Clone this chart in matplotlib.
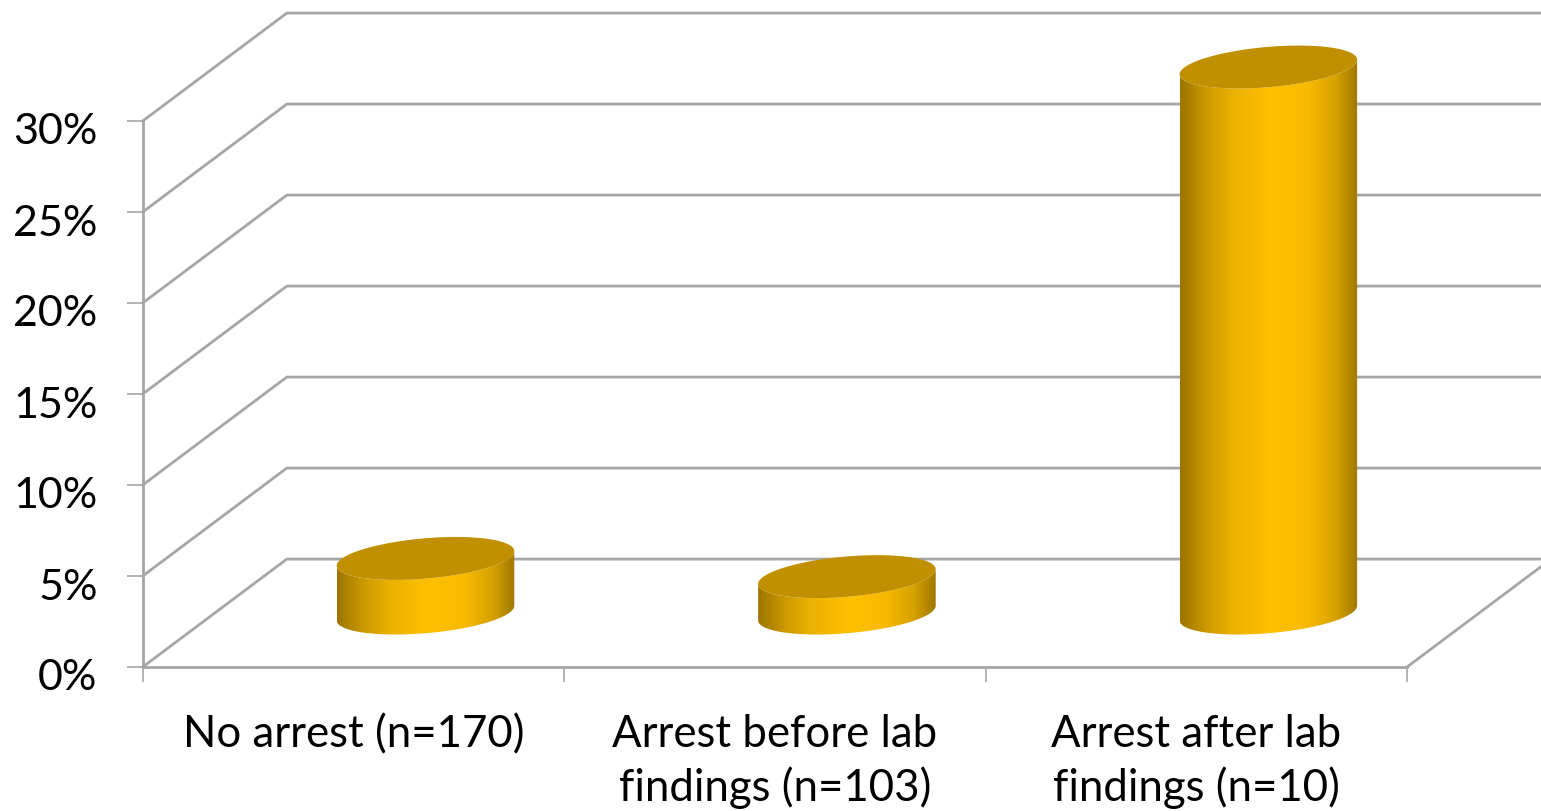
import numpy as np
import matplotlib
matplotlib.use("Agg")
import matplotlib.pyplot as plt
from matplotlib.colors import LinearSegmentedColormap
from matplotlib.patches import Polygon
from matplotlib.transforms import ScaledTranslation

categories = ["No arrest (n=170)", "Arrest before lab\nfindings (n=103)", "Arrest after lab\nfindings (n=10)"]
values = [3, 2, 30]
y_ticks = [0, 5, 10, 15, 20, 25, 30]
y_labels = ["0%", "5%", "10%", "15%", "20%", "25%", "30%"]

GRID = "#a6a6a6"
TOP = "#c09000"
side_cmap = LinearSegmentedColormap.from_list("side", [
    (0.0, "#9c7500"), (0.15, "#cc9900"), (0.3, "#ecb200"), (0.52, "#ffc000"),
    (0.72, "#f8ba00"), (0.87, "#d8a300"), (1.0, "#a07800"),
])

plt.rcParams["font.family"] = ["Lato", "DejaVu Sans"]

W, H = 1541, 812
fig = plt.figure(figsize=(W / 100, H / 100), dpi=100)
ax = fig.add_axes([142.7 / W, (H - 668) / H, (1407 - 142.7) / W, (668 - 122) / H])
ax.set_facecolor("none")

# fake depth of the 3D box, in data units
depth_x = 0.342
depth_y = 5.93
x_right = (W - 142.7) / ((1407 - 142.7) / 3)

# walls and floor
for v in y_ticks:
    ax.plot([0, depth_x, x_right], [v, v + depth_y, v + depth_y], color=GRID, lw=2, clip_on=False, zorder=1)
ax.plot([3, 3 + depth_x], [0, depth_y], color=GRID, lw=2, clip_on=False, zorder=1)

# cylinders
ux, vx, vy = 0.198, 0.072, 1.18
t = np.linspace(0, 2 * np.pi, 200)
t_right = np.arctan2(vx, ux)
arc = np.linspace(np.pi + t_right, 2 * np.pi + t_right, 100)
x_half = np.hypot(ux, vx)

for i, val in enumerate(values):
    cx = i + 0.5 + depth_x / 2
    y0 = depth_y / 2
    y1 = y0 + val
    # front side: bottom arc then top arc back
    bx = cx + ux * np.cos(arc) + vx * np.sin(arc)
    by = y0 + vy * np.sin(arc)
    tx = cx + ux * np.cos(arc[::-1]) + vx * np.sin(arc[::-1])
    ty = y1 + vy * np.sin(arc[::-1])
    side = Polygon(np.column_stack([np.r_[bx, tx], np.r_[by, ty]]), closed=True, transform=ax.transData, fc="none", ec="none")
    ax.add_patch(side)
    im = ax.imshow(np.linspace(0, 1, 256).reshape(1, -1), cmap=side_cmap, aspect="auto",
                   extent=[cx - x_half, cx + x_half, y0 - vy, y1 + vy], zorder=3)
    im.set_clip_box(fig.bbox)
    im.set_clip_path(side)
    ax.fill(cx + ux * np.cos(t) + vx * np.sin(t), y1 + vy * np.sin(t), color=TOP, lw=0, zorder=4, clip_on=False)

ax.set_xlim(0, 3)
ax.set_ylim(0, 30)

for s in ["top", "right"]:
    ax.spines[s].set_visible(False)
for s in ["left", "bottom"]:
    ax.spines[s].set_color(GRID)
    ax.spines[s].set_linewidth(2)
    ax.spines[s].set_zorder(2)

ax.set_yticks(y_ticks, y_labels)
ax.tick_params(axis="y", length=11.5, width=1.2, color=GRID, labelsize=31, pad=21)
ax.set_xticks([0, 1, 2, 3], [""] * 4)
ax.tick_params(axis="x", which="major", length=11, width=1.2, color=GRID)
ax.set_xticks([0.5, 1.5, 2.5], categories, minor=True)
ax.tick_params(axis="x", which="minor", length=0, labelsize=31.5, pad=33.4)
for lab in ax.get_xticklabels(minor=True):
    lab.set_linespacing(1.32)
# old-style digits in the original sit lower than the tick
down = ScaledTranslation(0, -7 / 100, fig.dpi_scale_trans)
for lab in ax.get_yticklabels():
    lab.set_transform(lab.get_transform() + down)

fig.savefig("out.png", dpi=100)
